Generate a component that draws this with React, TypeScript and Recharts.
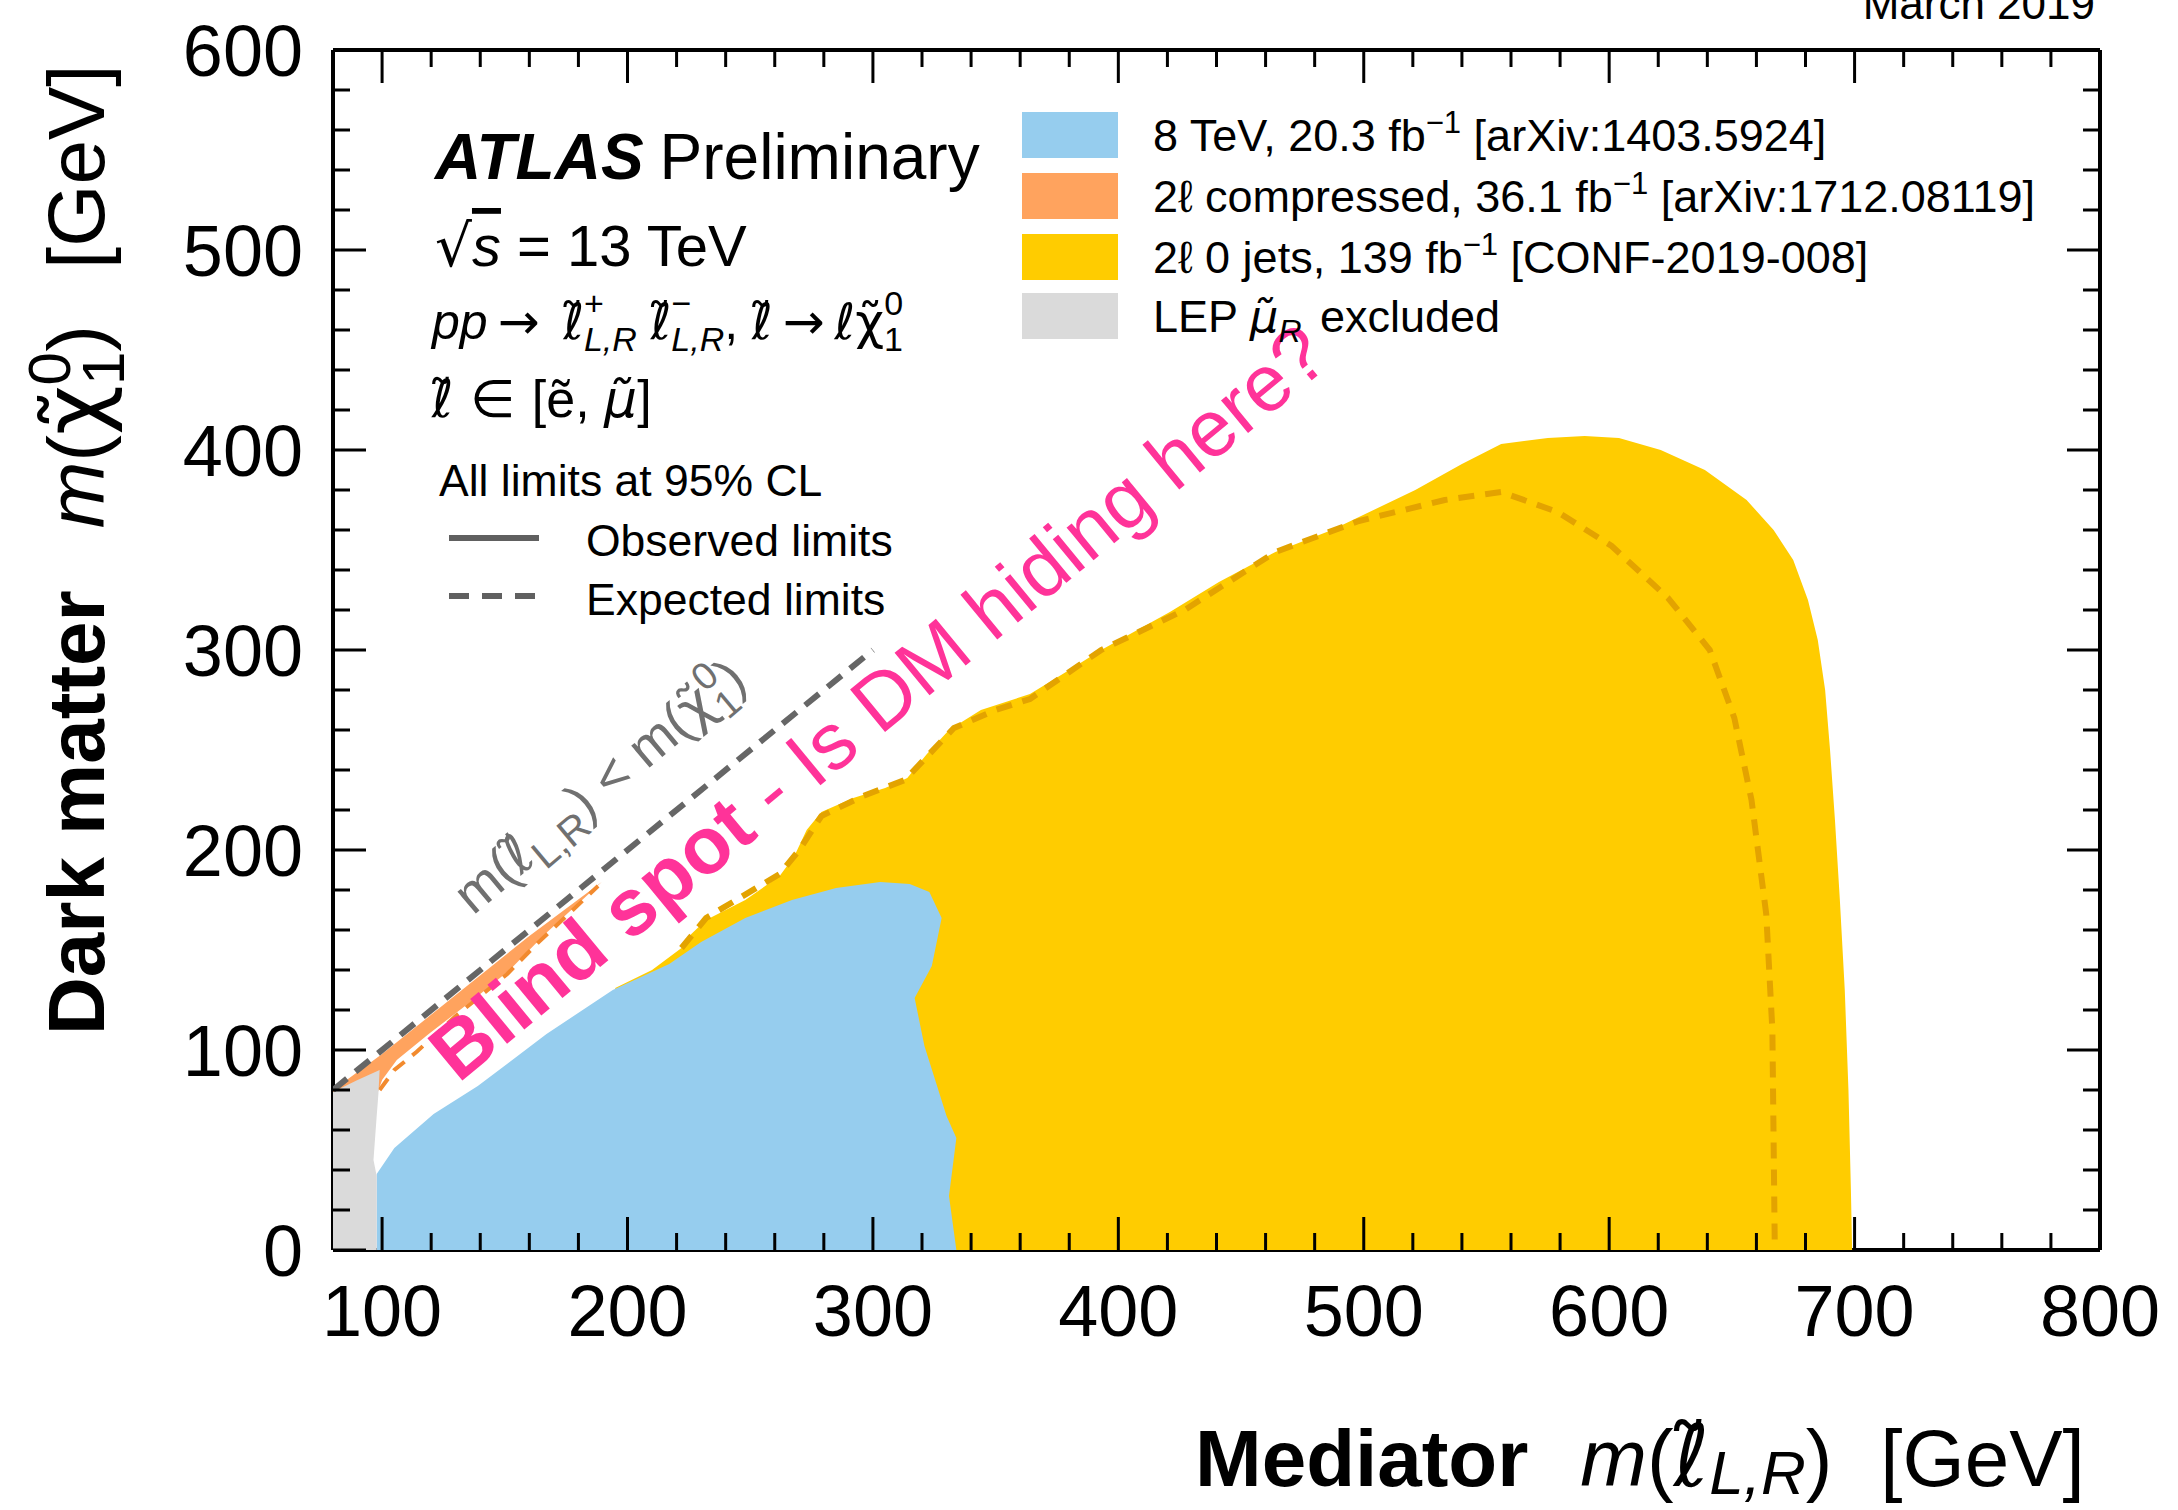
import React from 'react';
import { ComposedChart, Scatter, XAxis, YAxis, ReferenceDot } from 'recharts';

const FONT = '"Liberation Sans", Arial, Helvetica, sans-serif';
const MATH = '"DejaVu Sans", sans-serif';

const BLUE = '#96CDEE';
const ORANGE = '#FFA35E';
const YELLOW = '#FFCC00';
const GREY = '#DADADA';
const PINK = '#FF3399';

// axis ticks in GeV (major every 100, minor every 20)
const xTicks = Array.from({ length: 36 }, (_, i) => 100 + i * 20);
const yTicks = Array.from({ length: 31 }, (_, i) => i * 20);

// LEP smuon_R exclusion
const lepExcluded = [
  { x: 80, y: 0 }, { x: 80, y: 79 }, { x: 90, y: 85 }, { x: 99, y: 90 }, { x: 98.5, y: 78 },
  { x: 97.8, y: 67 }, { x: 96.5, y: 45 }, { x: 97.8, y: 37 }, { x: 97.8, y: 0 },
];

// 8 TeV, 20.3 fb-1 observed contour
const blue8TeV = [
  { x: 97.8, y: 0 }, { x: 97.8, y: 38 }, { x: 105, y: 51 }, { x: 121, y: 68 }, { x: 139, y: 82 },
  { x: 167, y: 108 }, { x: 194, y: 130 }, { x: 217, y: 143 }, { x: 230, y: 154 }, { x: 248, y: 166 },
  { x: 267, y: 175 }, { x: 285, y: 181 }, { x: 303, y: 184 }, { x: 315, y: 183 }, { x: 323, y: 179 },
  { x: 328, y: 166 }, { x: 324, y: 142 }, { x: 317, y: 126 }, { x: 321, y: 102 }, { x: 330, y: 67 },
  { x: 334, y: 56 }, { x: 331, y: 27 }, { x: 334, y: 0 },
];

// 2l 0 jets, 139 fb-1 observed contour
const zeroJetObs = [
  { x: 200, y: 0 }, { x: 195, y: 131 }, { x: 210, y: 140 }, { x: 222, y: 151 }, { x: 226, y: 158 },
  { x: 232, y: 165 }, { x: 248, y: 175 }, { x: 262, y: 187 }, { x: 268, y: 197 }, { x: 273, y: 210 },
  { x: 279, y: 219 }, { x: 292, y: 226 }, { x: 305, y: 231 }, { x: 314, y: 236 }, { x: 322, y: 248 },
  { x: 331, y: 260 }, { x: 344, y: 270 }, { x: 364, y: 278 }, { x: 380, y: 290 }, { x: 393, y: 300 },
  { x: 421, y: 319 }, { x: 441, y: 334 }, { x: 464, y: 349 }, { x: 487, y: 360 }, { x: 521, y: 380 },
  { x: 540, y: 393 }, { x: 556, y: 403 }, { x: 575, y: 406 }, { x: 590, y: 407 }, { x: 604, y: 406 },
  { x: 621, y: 400 }, { x: 639, y: 390 }, { x: 656, y: 375 }, { x: 667, y: 360 }, { x: 675, y: 345 },
  { x: 681, y: 325 }, { x: 685, y: 305 }, { x: 688, y: 280 }, { x: 690, y: 250 }, { x: 692, y: 215 },
  { x: 694, y: 175 }, { x: 696, y: 130 }, { x: 697.5, y: 80 }, { x: 698.5, y: 30 }, { x: 699, y: 0 },
];

// 2l 0 jets expected
const zeroJetExp = [
  { x: 222, y: 151 }, { x: 232, y: 166 }, { x: 262, y: 188 }, { x: 270, y: 200 }, { x: 279, y: 217 },
  { x: 296, y: 227 }, { x: 313, y: 235 }, { x: 333, y: 261 }, { x: 350, y: 270 }, { x: 364, y: 275.5 },
  { x: 393, y: 300 }, { x: 427, y: 320 }, { x: 464, y: 349 }, { x: 498, y: 364.5 }, { x: 533, y: 375 },
  { x: 556, y: 379 }, { x: 579, y: 369 }, { x: 601, y: 352 }, { x: 624, y: 326 }, { x: 641, y: 300 },
  { x: 651, y: 266 }, { x: 658, y: 225 }, { x: 664, y: 168 }, { x: 666.5, y: 110 }, { x: 667.5, y: 0 },
];

// 2l compressed, 36.1 fb-1
const compressedObs = [
  { x: 80, y: 78 }, { x: 80, y: 80 }, { x: 100, y: 98 }, { x: 130, y: 127.5 }, { x: 160, y: 157 },
  { x: 189.5, y: 184 }, { x: 166, y: 157.5 }, { x: 152, y: 140 }, { x: 137, y: 125 },
  { x: 119.5, y: 108.5 }, { x: 106, y: 95 }, { x: 100, y: 85 }, { x: 98, y: 78 },
];
const compressedExp = [
  { x: 99, y: 80 }, { x: 105, y: 90 }, { x: 114, y: 99 }, { x: 130, y: 117 }, { x: 151, y: 138 },
  { x: 163, y: 153 }, { x: 176, y: 168 }, { x: 188, y: 182 },
];

// kinematic limit m(slepton) = m(chi)
const diagonal = [{ x: 80, y: 80 }, { x: 300, y: 300 }];

const isMajor = (v: number) => v % 100 === 0;
const noDot = () => <g />;

// letter with a tilde, drawn in one font so the accent sits on the letter
function Tl({ c, italic, size }: { c: string; italic?: boolean; size?: number }) {
  return (
    <tspan fontFamily={MATH} fontStyle={italic ? 'italic' : 'normal'} fontSize={size}>
      {c + '\u0303'}
    </tspan>
  );
}

function BottomTick(props: any) {
  const { x, y, payload } = props;
  const major = isMajor(payload.value);
  return (
    <g>
      <line x1={x} x2={x} y1={y} y2={y - (major ? 33 : 17)} stroke="#000" strokeWidth={3} />
      {major && (
        <text x={x} y={y + 86} textAnchor="middle" fontSize={72} fontFamily={FONT} fill="#000">
          {payload.value}
        </text>
      )}
    </g>
  );
}

function TopTick(props: any) {
  const { x, y, payload } = props;
  const major = isMajor(payload.value);
  return <line x1={x} x2={x} y1={y} y2={y + (major ? 33 : 17)} stroke="#000" strokeWidth={3} />;
}

function LeftTick(props: any) {
  const { x, y, payload } = props;
  const major = isMajor(payload.value);
  return (
    <g>
      <line x1={x} x2={x + (major ? 33 : 17)} y1={y} y2={y} stroke="#000" strokeWidth={3} />
      {major && (
        <text x={x - 30} y={y} dy={26} textAnchor="end" fontSize={72} fontFamily={FONT} fill="#000">
          {payload.value}
        </text>
      )}
    </g>
  );
}

function RightTick(props: any) {
  const { x, y, payload } = props;
  const major = isMajor(payload.value);
  return <line x1={x} x2={x - (major ? 33 : 17)} y1={y} y2={y} stroke="#000" strokeWidth={3} />;
}

const blindSpot = (p: any) => (
  <text x={p.cx} y={p.cy} transform={`rotate(-39.5 ${p.cx} ${p.cy})`} fill={PINK} fontSize={80} fontFamily={FONT}>
    <tspan fontWeight="bold">Blind spot</tspan>
    <tspan> - Is DM hiding here?</tspan>
  </text>
);

const kinematicLabel = (p: any) => (
  <text x={p.cx} y={p.cy} transform={`rotate(-40 ${p.cx} ${p.cy})`} fill="#707070" fontSize={54} fontFamily={FONT}>
    <tspan>m(</tspan>
    <Tl c="ℓ" />
    <tspan dy={12} fontSize={40}>L,R</tspan>
    <tspan dy={-12}>) &lt; m(</tspan>
    <Tl c="χ" />
    <tspan dy={-22} fontSize={38}>0</tspan>
    <tspan dx={-21} dy={36} fontSize={38}>1</tspan>
    <tspan dy={-14}>)</tspan>
  </text>
);

function Sup({ children }: { children: React.ReactNode }) {
  return <tspan dy={-18} fontSize={31}>{children}</tspan>;
}

function LegendRow({ y, color, children }: { y: number; color: string; children: React.ReactNode }) {
  return (
    <g>
      <rect x={1022} y={y} width={96} height={46} fill={color} />
      <text x={1153} y={y + 39} fontSize={45} fontFamily={FONT} fill="#000">
        {children}
      </text>
    </g>
  );
}

export default function App() {
  return (
    <div style={{ position: 'relative', width: 2178, height: 1510, background: '#fff' }}>
      <style>{'body{margin:0;}'}</style>
      <ComposedChart width={2178} height={1510} margin={{ top: 49, right: 77, bottom: 160, left: 233 }}>
        <Scatter data={zeroJetObs} xAxisId="b" yAxisId="l" isAnimationActive={false} shape={noDot}
          line={{ fill: YELLOW, stroke: 'none' }} />
        <Scatter data={zeroJetExp} xAxisId="b" yAxisId="l" isAnimationActive={false} shape={noDot}
          line={{ fill: 'none', stroke: '#E3A300', strokeWidth: 6, strokeDasharray: '16 11' }} />
        <Scatter data={blue8TeV} xAxisId="b" yAxisId="l" isAnimationActive={false} shape={noDot}
          line={{ fill: BLUE, stroke: 'none' }} />
        <Scatter data={compressedObs} xAxisId="b" yAxisId="l" isAnimationActive={false} shape={noDot}
          line={{ fill: ORANGE, stroke: 'none' }} />
        <Scatter data={compressedExp} xAxisId="b" yAxisId="l" isAnimationActive={false} shape={noDot}
          line={{ fill: 'none', stroke: '#F28A2E', strokeWidth: 4, strokeDasharray: '14 10' }} />
        <Scatter data={lepExcluded} xAxisId="b" yAxisId="l" isAnimationActive={false} shape={noDot}
          line={{ fill: GREY, stroke: 'none' }} />
        <Scatter data={diagonal} xAxisId="b" yAxisId="l" isAnimationActive={false} shape={noDot}
          line={{ fill: 'none', stroke: '#666666', strokeWidth: 6, strokeDasharray: '18 11' }} />

        <ReferenceDot x={131} y={83} xAxisId="b" yAxisId="l" ifOverflow="visible" shape={blindSpot} />
        <ReferenceDot x={137} y={167} xAxisId="b" yAxisId="l" ifOverflow="visible" shape={kinematicLabel} />

        <XAxis xAxisId="b" type="number" dataKey="x" domain={[80, 800]} allowDataOverflow ticks={xTicks}
          interval={0} height={100} tickSize={0} tickMargin={0} tickLine={false} tick={BottomTick}
          axisLine={{ stroke: '#000', strokeWidth: 4 }} />
        <XAxis xAxisId="t" orientation="top" type="number" dataKey="x" domain={[80, 800]} allowDataOverflow
          ticks={xTicks} interval={0} height={1} tickSize={0} tickMargin={0} tickLine={false} tick={TopTick}
          axisLine={{ stroke: '#000', strokeWidth: 4 }} />
        <YAxis yAxisId="l" type="number" dataKey="y" domain={[0, 600]} allowDataOverflow ticks={yTicks}
          interval={0} width={100} tickSize={0} tickMargin={0} tickLine={false} tick={LeftTick}
          axisLine={{ stroke: '#000', strokeWidth: 4 }} />
        <YAxis yAxisId="r" orientation="right" type="number" dataKey="y" domain={[0, 600]} allowDataOverflow
          ticks={yTicks} interval={0} width={1} tickSize={0} tickMargin={0} tickLine={false} tick={RightTick}
          axisLine={{ stroke: '#000', strokeWidth: 4 }} />
      </ComposedChart>

      <svg width={2178} height={1510} style={{ position: 'absolute', left: 0, top: 0, pointerEvents: 'none' }}
        fontFamily={FONT}>
        <text x={2095} y={19} textAnchor="end" fontSize={44}>March 2019</text>

        <text x={435} y={179} fontSize={64}>
          <tspan fontWeight="bold" fontStyle="italic">ATLAS</tspan>
          <tspan dx={16}>Preliminary</tspan>
        </text>
        <text x={435} y={266} fontSize={58}>
          <tspan fontFamily={MATH}>√</tspan>
          <tspan fontStyle="italic" textDecoration="overline">s</tspan>
          <tspan> = 13 TeV</tspan>
        </text>
        <text x={432} y={339} fontSize={50}>
          <tspan fontStyle="italic">pp</tspan>
          <tspan dx={10} fontFamily={MATH}>→</tspan>
          <tspan dx={10}> </tspan>
          <Tl c="ℓ" />
          <tspan dy={-24} fontSize={34}>+</tspan>
          <tspan dx={-20} dy={36} fontSize={34} fontStyle="italic">L,R</tspan>
          <tspan dy={-12}> </tspan>
          <Tl c="ℓ" />
          <tspan dy={-24} fontSize={34}>−</tspan>
          <tspan dx={-20} dy={36} fontSize={34} fontStyle="italic">L,R</tspan>
          <tspan dy={-12}>, </tspan>
          <Tl c="ℓ" />
          <tspan dx={10} fontFamily={MATH}>→</tspan>
          <tspan dx={10} fontFamily={MATH}>ℓ</tspan>
          <Tl c="χ" />
          <tspan dy={-24} fontSize={34}>0</tspan>
          <tspan dx={-19} dy={36} fontSize={34}>1</tspan>
        </text>
        <text x={432} y={417} fontSize={52}>
          <Tl c="ℓ" />
          <tspan fontFamily={MATH}> ∈ </tspan>
          <tspan>[ẽ, </tspan>
          <Tl c="μ" italic />
          <tspan>]</tspan>
        </text>

        <text x={439} y={496} fontSize={44.5}>All limits at 95% CL</text>
        <line x1={449} x2={539} y1={538} y2={538} stroke="#606060" strokeWidth={6} />
        <text x={586} y={556} fontSize={44.5}>Observed limits</text>
        <line x1={449} x2={539} y1={596} y2={596} stroke="#606060" strokeWidth={6} strokeDasharray="20 13" />
        <text x={586} y={615} fontSize={44.5}>Expected limits</text>

        <LegendRow y={112} color={BLUE}>
          <tspan>8 TeV, 20.3 fb</tspan>
          <Sup>−1</Sup>
          <tspan dy={18}> [arXiv:1403.5924]</tspan>
        </LegendRow>
        <LegendRow y={173} color={ORANGE}>
          <tspan>2ℓ compressed, 36.1 fb</tspan>
          <Sup>−1</Sup>
          <tspan dy={18}> [arXiv:1712.08119]</tspan>
        </LegendRow>
        <LegendRow y={234} color={YELLOW}>
          <tspan>2ℓ 0 jets, 139 fb</tspan>
          <Sup>−1</Sup>
          <tspan dy={18}> [CONF-2019-008]</tspan>
        </LegendRow>
        <LegendRow y={293} color={GREY}>
          <tspan>LEP </tspan>
          <Tl c="μ" italic />
          <tspan dy={10} fontSize={32} fontStyle="italic">R</tspan>
          <tspan dy={-10} dx={6}> excluded</tspan>
        </LegendRow>

        <text transform="rotate(-90)" x={-1035} y={104} fontSize={80}>
          <tspan fontWeight="bold">Dark matter</tspan>
          <tspan dx={62} fontStyle="italic">m</tspan>
          <tspan>(</tspan>
          <Tl c="χ" size={86} />
          <tspan dy={-34} fontSize={60}>0</tspan>
          <tspan dx={-33} dy={54} fontSize={60}>1</tspan>
          <tspan dy={-20}>)</tspan>
          <tspan dx={56}>[GeV]</tspan>
        </text>

        <text x={1195} y={1486} fontSize={80}>
          <tspan fontWeight="bold">Mediator</tspan>
          <tspan dx={52} fontStyle="italic">m</tspan>
          <tspan>(</tspan>
          <Tl c="ℓ" size={86} />
          <tspan dy={8} fontSize={62} fontStyle="italic">L,R</tspan>
          <tspan dy={-8}>)</tspan>
          <tspan dx={48}>[GeV]</tspan>
        </text>
      </svg>
    </div>
  );
}
